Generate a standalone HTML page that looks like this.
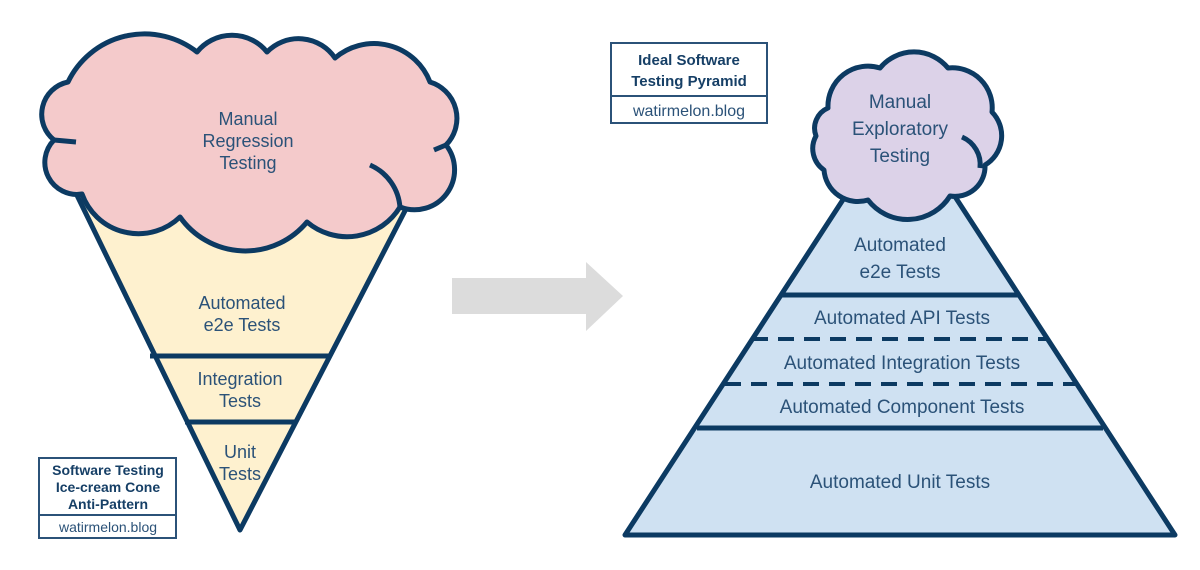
<!DOCTYPE html>
<html><head><style>
html,body{margin:0;padding:0;background:#fff;}
svg{display:block;}
text{font-family:"Liberation Sans",sans-serif;fill:#2b5278;}
.t{font-size:18px;}
.b{font-weight:bold;font-size:14px;fill:#163f66;}
</style></head><body>
<svg width="1200" height="570" viewBox="0 0 1200 570">
<!-- cone -->
<polygon points="72,185 408,205 240,530" fill="#fef1cf" stroke="#0c3a62" stroke-width="5" stroke-linejoin="round"/>
<line x1="150" y1="356" x2="330" y2="356" stroke="#0c3a62" stroke-width="5"/>
<line x1="185" y1="422" x2="296" y2="422" stroke="#0c3a62" stroke-width="5"/>
<!-- cloud -->
<path d="M68,82 A85,85 0 0 1 197,52 A45,45 0 0 1 267,52 A44,44 0 0 1 335,58 A60,60 0 0 1 430,82 A38,38 0 0 1 446,145 A40,40 0 0 1 400,207 A62,62 0 0 1 307,222 A80,80 0 0 1 180,217 A60,60 0 0 1 82,194 A32,32 0 0 1 54,140 A33,33 0 0 1 68,82 Z" fill="#f4cacb" stroke="#0c3a62" stroke-width="5" stroke-linejoin="round"/>
<path d="M370,165 A50,50 0 0 1 400,208" fill="none" stroke="#0c3a62" stroke-width="5"/>
<path d="M446,145 L434,150" fill="none" stroke="#0c3a62" stroke-width="5"/>
<path d="M54,140 L76,142" fill="none" stroke="#0c3a62" stroke-width="5"/>
<text class="t" x="248" y="125" text-anchor="middle">Manual</text>
<text class="t" x="248" y="147" text-anchor="middle">Regression</text>
<text class="t" x="248" y="169" text-anchor="middle">Testing</text>
<text class="t" x="242" y="309" text-anchor="middle">Automated</text>
<text class="t" x="242" y="331" text-anchor="middle">e2e Tests</text>
<text class="t" x="240" y="385" text-anchor="middle">Integration</text>
<text class="t" x="240" y="407" text-anchor="middle">Tests</text>
<text class="t" x="240" y="458" text-anchor="middle">Unit</text>
<text class="t" x="240" y="480" text-anchor="middle">Tests</text>
<!-- left label box -->
<rect x="39" y="458" width="137" height="80" fill="#fff" stroke="#2b5278" stroke-width="2"/>
<line x1="39" y1="515" x2="176" y2="515" stroke="#2b5278" stroke-width="2"/>
<text class="b" x="108" y="475" text-anchor="middle">Software Testing</text>
<text class="b" x="108" y="492" text-anchor="middle">Ice-cream Cone</text>
<text class="b" x="108" y="509" text-anchor="middle">Anti-Pattern</text>
<text x="108" y="532" text-anchor="middle" style="font-size:14px">watirmelon.blog</text>
<!-- arrow -->
<polygon points="452,278 586,278 586,262 623,296 586,331 586,314 452,314" fill="#dcdcdc"/>
<!-- pyramid -->
<polygon points="625,535 1175,535 900,112" fill="#cfe1f2" stroke="#0c3a62" stroke-width="5" stroke-linejoin="round"/>
<line x1="780" y1="295" x2="1020" y2="295" stroke="#0c3a62" stroke-width="5"/>
<line x1="752" y1="339" x2="1048" y2="339" stroke="#0c3a62" stroke-width="4" stroke-dasharray="16,10"/>
<line x1="725" y1="384" x2="1075" y2="384" stroke="#0c3a62" stroke-width="4" stroke-dasharray="16,10"/>
<line x1="697" y1="428" x2="1103" y2="428" stroke="#0c3a62" stroke-width="5"/>
<!-- small cloud -->
<path d="M828,108 A40,40 0 0 1 880,68 A44,44 0 0 1 948,68 A40,40 0 0 1 992,112 A34,34 0 0 1 985,165 A30,30 0 0 1 950,196 A50,50 0 0 1 868,200 A34,34 0 0 1 824,170 A26,26 0 0 1 816,136 A22,22 0 0 1 828,108 Z" fill="#dcd2e8" stroke="#0c3a62" stroke-width="5" stroke-linejoin="round"/>
<path d="M962,137 A30,30 0 0 1 980,168" fill="none" stroke="#0c3a62" stroke-width="5"/>
<text class="t" x="900" y="108" text-anchor="middle" style="font-size:19px">Manual</text>
<text class="t" x="900" y="135" text-anchor="middle" style="font-size:19px">Exploratory</text>
<text class="t" x="900" y="162" text-anchor="middle" style="font-size:19px">Testing</text>
<text class="t" x="900" y="251" text-anchor="middle" style="font-size:19px">Automated</text>
<text class="t" x="900" y="278" text-anchor="middle" style="font-size:19px">e2e Tests</text>
<text class="t" x="902" y="324" text-anchor="middle" style="font-size:19px">Automated API Tests</text>
<text class="t" x="902" y="369" text-anchor="middle" style="font-size:19px">Automated Integration Tests</text>
<text class="t" x="902" y="413" text-anchor="middle" style="font-size:19px">Automated Component Tests</text>
<text class="t" x="900" y="488" text-anchor="middle" style="font-size:19px">Automated Unit Tests</text>
<!-- right label box -->
<rect x="611" y="43" width="156" height="80" fill="#fff" stroke="#2b5278" stroke-width="2"/>
<line x1="611" y1="96" x2="767" y2="96" stroke="#2b5278" stroke-width="2"/>
<text class="b" x="689" y="65" text-anchor="middle" style="font-size:15px">Ideal Software</text>
<text class="b" x="689" y="86" text-anchor="middle" style="font-size:15px">Testing Pyramid</text>
<text x="689" y="116" text-anchor="middle" style="font-size:16px">watirmelon.blog</text>
</svg>
</body></html>
